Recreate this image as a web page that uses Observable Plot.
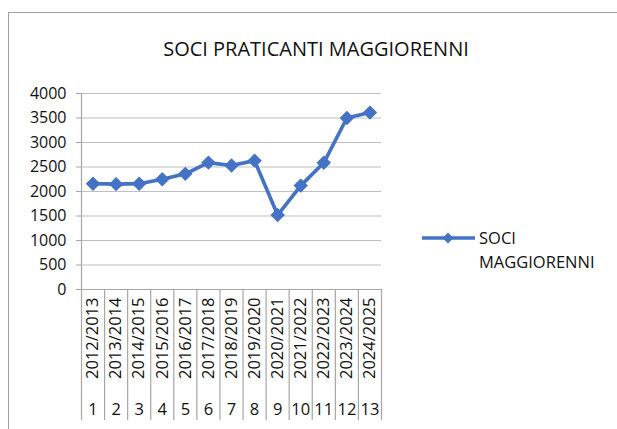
<!DOCTYPE html>
<html>
<head>
<meta charset="utf-8">
<script src="https://cdn.jsdelivr.net/npm/d3@7"></script>
<script src="https://cdn.jsdelivr.net/npm/@observablehq/plot@0.6"></script>
<style>
  html, body { margin: 0; padding: 0; background: #fff; }
  #wrap { position: relative; width: 617px; height: 429px; overflow: hidden; font-family: "Open Sans", sans-serif; }
  #border { position: absolute; left: 8px; top: 12px; width: 640px; height: 450px; border-left: 1.5px solid #a0a0a0; border-top: 1.5px solid #a0a0a0; }
  #title { position: absolute; left: 0; width: 632px; top: 35px; text-align: center; font-size: 20px; color: #111; }
  #legend { position: absolute; left: 420px; top: 226px; font-size: 16.5px; color: #111; }
  #legend svg { position: absolute; left: 0; top: 4px; }
  #legend .lbl { position: absolute; left: 59px; top: 0; line-height: 24px; white-space: nowrap; }
  #chart { position: absolute; left: 0; top: 0; }
</style>
</head>
<body>
<div id="wrap">
  <div id="border"></div>
  <div id="chart"></div>
  <div id="title">SOCI PRATICANTI MAGGIORENNI</div>
  <div id="legend">
    <svg width="58" height="16"><line x1="2" y1="8" x2="55" y2="8" stroke="#4472C4" stroke-width="3.5"/><path d="M28,2.5 L33.5,8 L28,13.5 L22.5,8 Z" fill="#4472C4"/></svg>
    <div class="lbl">SOCI<br>MAGGIORENNI</div>
  </div>
</div>
<script>
const seasons = ["2012/2013","2013/2014","2014/2015","2015/2016","2016/2017","2017/2018","2018/2019","2019/2020","2020/2021","2021/2022","2022/2023","2023/2024","2024/2025"];
const indices = [1,2,3,4,5,6,7,8,9,10,11,12,13];
const soci = [2160,2150,2160,2250,2360,2590,2530,2630,1520,2120,2585,3500,3610];
const yTicks = [0,500,1000,1500,2000,2500,3000,3500,4000];

const data = indices.map((i, k) => ({i, season: seasons[k], value: soci[k]}));
const separators = [indices[0] - 0.5, ...indices.map(i => i + 0.5)];
const gray = "#a6a6a6";
const txt = "#111";

const chart = Plot.plot({
  width: 617,
  height: 429,
  marginLeft: 81,
  marginRight: 236,
  marginTop: 93,
  marginBottom: 140,
  style: {fontFamily: "Open Sans, sans-serif", fontSize: "16px", background: "transparent", color: txt},
  x: {type: "linear", domain: [0.5, 13.5], axis: null},
  y: {domain: [0, 4000], axis: null},
  marks: [
    Plot.ruleY(yTicks, {stroke: "#bfbfbf", strokeWidth: 1.2}),
    Plot.frame({anchor: "left", stroke: gray, strokeWidth: 1.2}),
    Plot.axisY({ticks: yTicks, label: null, tickSize: 5, tickPadding: 10, stroke: gray, fill: txt, fontSize: 16, tickFormat: d => String(d)}),
    Plot.ruleY([0], {stroke: gray, strokeWidth: 1.2}),
    Plot.axisX({ticks: separators, label: null, tickSize: 131, tickFormat: () => "", stroke: gray, strokeWidth: 1.2}),
    Plot.text(data, {x: "i", text: "season", frameAnchor: "bottom", rotate: -90, textAnchor: "end", lineAnchor: "middle", dy: 8, fill: txt, fontSize: 16.5}),
    Plot.text(data, {x: "i", text: d => String(d.i), frameAnchor: "bottom", dy: 120, lineAnchor: "middle", fill: txt, fontSize: 16.5}),
    Plot.line(data, {x: "i", y: "value", stroke: "#4472C4", strokeWidth: 3.6}),
    Plot.dot(data, {x: "i", y: "value", symbol: "diamond2", r: 6.5, fill: "#4472C4", stroke: "none"})
  ]
});
document.getElementById("chart").appendChild(chart);
</script>
</body>
</html>
